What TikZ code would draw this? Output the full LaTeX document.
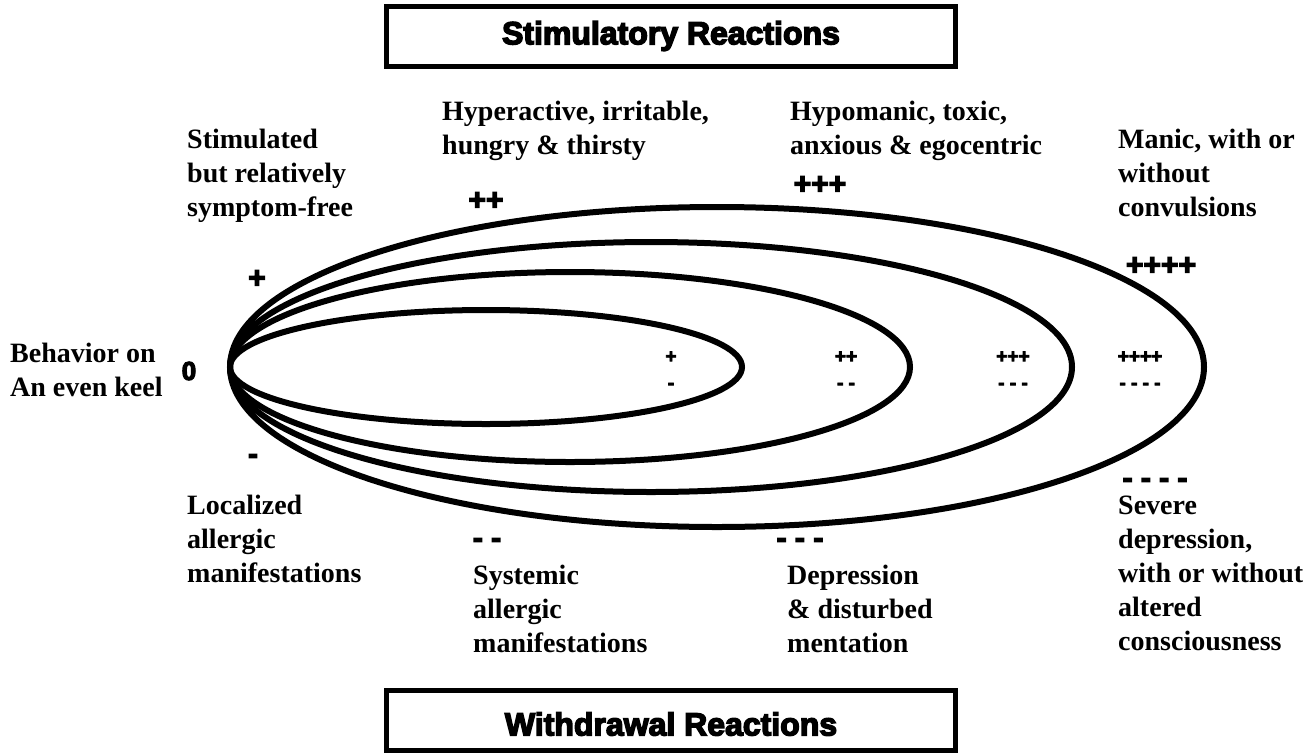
\documentclass[tikz,border=0pt]{standalone}
\usepackage{fontspec}
\setmainfont{Liberation Serif}
\newfontfamily\heavy{Liberation Sans}[BoldFeatures={FakeBold=4.5}]
\begin{document}
\begin{tikzpicture}[x=1pt,y=-1pt,
  lbl/.style={anchor=north west, inner sep=0pt, align=left,
    font=\fontsize{28}{34}\selectfont\bfseries},
  sym/.style={inner sep=0pt, font=\heavy\bfseries\fontsize{30}{30}\selectfont},
  smallsym/.style={inner sep=0pt, font=\heavy\bfseries\fontsize{19}{19}\selectfont},
  titlebox/.style={draw, line width=5pt, minimum width=569pt, minimum height=60pt,
    inner sep=0pt},
  titletext/.style={inner sep=0pt, font=\heavy\bfseries\fontsize{32}{32}\selectfont},
  loop/.style={line width=6pt}]
\useasboundingbox (0,0) rectangle (1312,753);
% titles
\node[titlebox] (top) at (670.5,36.5) {};
\node[titletext] (toptext) at (671,36) {Stimulatory Reactions};
\node[titlebox] (bottom) at (670.5,720.5) {};
\node[titletext] (bottomtext) at (671,724) {Withdrawal Reactions};
% nested loops sharing the left tip
\draw[loop] (486,367) ellipse [x radius=256, y radius=57];
\draw[loop] (570,367) ellipse [x radius=340, y radius=95];
\draw[loop] (651,367) ellipse [x radius=421, y radius=125];
\draw[loop] (717,367) ellipse [x radius=487, y radius=160];
% inner level marks
\node[smallsym] (p1) at (671,357) {+};
\node[smallsym] (m1) at (671,386) {-};
\node[smallsym] (p2) at (846,357) {++};
\node[smallsym] (m2) at (846,386) {- -};
\node[smallsym] (p3) at (1013,357) {+++};
\node[smallsym] (m3) at (1013,386) {- - -};
\node[smallsym] (p4) at (1140,357) {++++};
\node[smallsym] (m4) at (1140,386) {- - - -};
% outer level marks
\node[sym] (zero) at (189,371) {\fontsize{26}{26}\selectfont 0};
\node[sym] (op1) at (257,279) {+};
\node[sym] (op2) at (486,201) {++};
\node[sym] (op3) at (820,185) {+++};
\node[sym] (op4) at (1161,266) {++++};
\node[sym] (om1) at (253,459) {-};
\node[sym] (om2) at (487,543) {- -};
\node[sym] (om3) at (800,543) {- - -};
\node[sym] (om4) at (1155,483) {- - - -};
% labels
\node[lbl] (stim) at (187,129) {Stimulated\\but relatively\\symptom-free};
\node[lbl] (hyper) at (442,101) {Hyperactive, irritable,\\hungry \& thirsty};
\node[lbl] (hypo) at (790,101) {Hypomanic, toxic,\\anxious \& egocentric};
\node[lbl] (manic) at (1118,129) {Manic, with or\\without\\convulsions};
\node[lbl] (behav) at (10,343) {Behavior on\\An even keel};
\node[lbl] (local) at (187,495) {Localized\\allergic\\manifestations};
\node[lbl] (syst) at (473,565) {Systemic\\allergic\\manifestations};
\node[lbl] (depr) at (787,565) {Depression\\\& disturbed\\mentation};
\node[lbl] (severe) at (1118,496) {Severe\\depression,\\with or without\\altered\\consciousness};
\end{tikzpicture}
\end{document}
